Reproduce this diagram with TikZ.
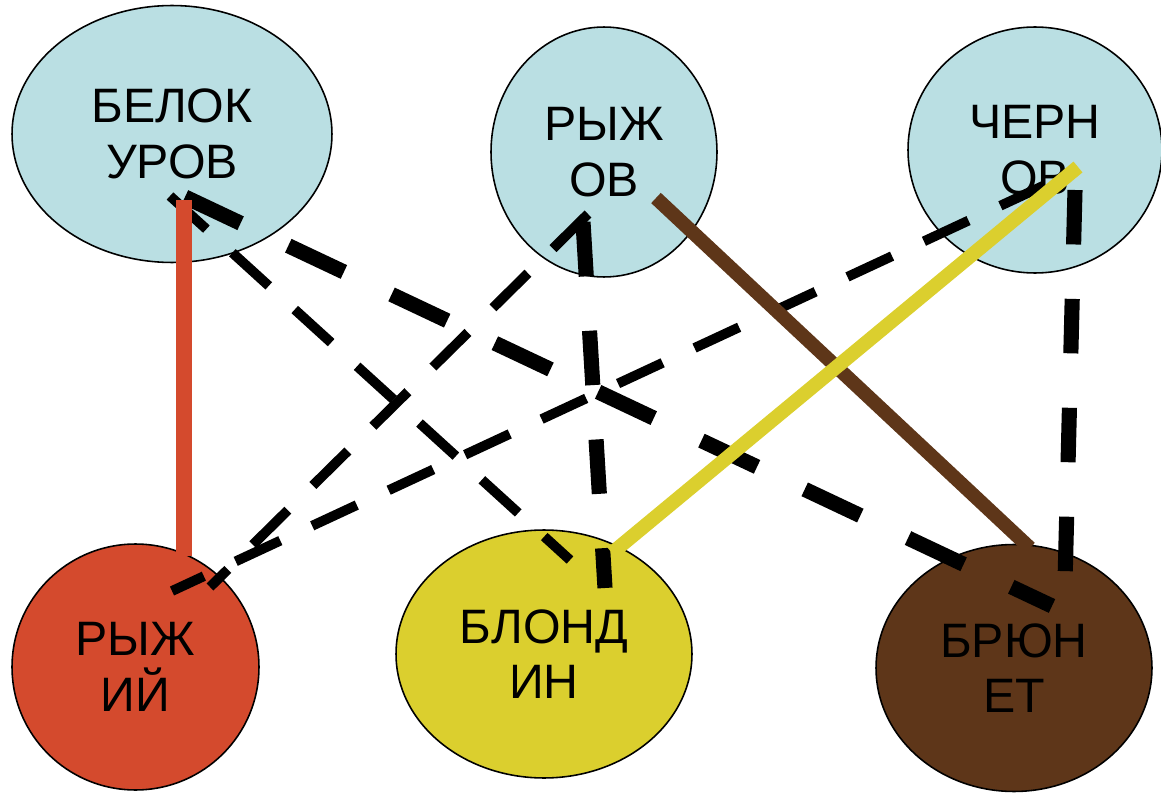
\documentclass[tikz,border=0pt]{standalone}
\usepackage{fontspec}
\setmainfont{Liberation Sans}
\usetikzlibrary{shapes.geometric}
\definecolor{lblue}{HTML}{BADFE3}
\definecolor{cred}{HTML}{D44A2D}
\definecolor{cyel}{HTML}{DBCF2E}
\definecolor{cbrown}{HTML}{5E3619}
\tikzset{
  circ/.style={ellipse, draw=black, line width=0.9pt, inner sep=0pt, align=center,
    font=\fontsize{27.5}{31.5}\selectfont},
  thickdash/.style={line width=8.6pt, black, dash pattern=on 35pt off 30pt},
  thindash/.style={line width=5.6pt, black, dash pattern=on 28pt off 20pt},
  solidline/.style={line width=8pt},
}
\begin{document}
\begin{tikzpicture}[x=0.02cm,y=-0.02cm]
\useasboundingbox (0,0) rectangle (1161,794);
\node[circ, fill=lblue, minimum width=6.4cm, minimum height=5.14cm] (bel) at (172,134) {БЕЛОК\\УРОВ};
\node[circ, fill=lblue, minimum width=4.52cm, minimum height=5.0cm] (ryzhov) at (604,152) {РЫЖ\\ОВ};
\node[circ, fill=lblue, minimum width=5.08cm, minimum height=4.92cm] (chern) at (1035,150) {ЧЕРН\\ОВ};
\node[circ, fill=cred, minimum width=4.94cm, minimum height=4.92cm] (ryzh) at (135.5,667) {РЫЖ\\ИЙ};
\node[circ, fill=cyel, minimum width=5.92cm, minimum height=4.96cm] (blond) at (544,654) {БЛОНД\\ИН};
\node[circ, fill=cbrown, minimum width=5.52cm, minimum height=4.94cm] (brun) at (1014,668) {БРЮН\\ЕТ};
% connector endpoints
\coordinate (b1) at (185,197);
\coordinate (b2) at (170,196);
\coordinate (r3) at (588,214);
\coordinate (r5) at (583,222);
\coordinate (c4) at (1045,185);
\coordinate (c6) at (1075,190);
\coordinate (br1) at (1052,606);
\coordinate (bl2) at (570,560);
\coordinate (ry3) at (210,587);
\coordinate (ry4) at (172,591);
\coordinate (bl5) at (605,588);
\coordinate (br6) at (1065,582);
\coordinate (bred) at (184,200);
\coordinate (ryred) at (184,556);
\coordinate (rbr) at (656,198);
\coordinate (brbr) at (1030,548);
\coordinate (cy) at (1078,167);
\coordinate (bly) at (612,553);
% dashed connectors
\draw[thickdash] (b1) -- (br1);
\draw[thindash] (b2) -- (bl2);
\draw[thindash] (r3) -- (ry3);
\draw[thindash] (c4) -- (ry4);
\draw[thickdash, dash pattern=on 31pt off 31pt] (r5) -- (bl5);
\draw[thickdash, dash pattern=on 31pt off 31pt] (c6) -- (br6);
% solid connectors
\draw[solidline, cred, line width=9pt] (bred) -- (ryred);
\draw[solidline, cbrown] (rbr) -- (brbr);
\draw[solidline, cyel] (cy) -- (bly);
\end{tikzpicture}
\end{document}
